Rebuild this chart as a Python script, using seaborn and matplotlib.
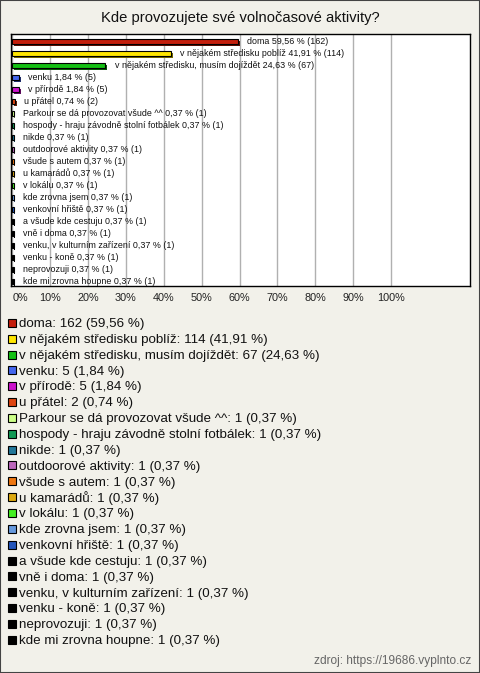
import matplotlib
matplotlib.use("Agg")
import matplotlib.pyplot as plt
import matplotlib.patheffects as pe
from matplotlib import font_manager
from matplotlib.patches import Rectangle
import seaborn as sns
import pandas as pd

categories = [
    "doma", "v nějakém středisku poblíž", "v nějakém středisku, musím dojíždět",
    "venku", "v přírodě", "u přátel", "Parkour se dá provozovat všude ^^",
    "hospody - hraju závodně stolní fotbálek", "nikde", "outdoorové aktivity",
    "všude s autem", "u kamarádů", "v lokálu", "kde zrovna jsem",
    "venkovní hřiště", "a všude kde cestuju", "vně i doma",
    "venku, v kulturním zařízení", "venku - koně", "neprovozuji",
    "kde mi zrovna houpne",
]
counts = [162, 114, 67, 5, 5, 2, 1, 1, 1, 1, 1, 1, 1, 1, 1, 1, 1, 1, 1, 1, 1]
percents = [59.56, 41.91, 24.63, 1.84, 1.84, 0.74, 0.37, 0.37, 0.37, 0.37, 0.37,
            0.37, 0.37, 0.37, 0.37, 0.37, 0.37, 0.37, 0.37, 0.37, 0.37]
colors = ["#c41e0c", "#ffe600", "#14c014", "#4466ee", "#cc11cc", "#dd4411",
          "#ccff88", "#119955", "#227799", "#bb66bb", "#ee7711", "#ddaa11",
          "#44ee22", "#6699dd", "#2255bb", "#000000", "#000000", "#000000",
          "#000000", "#000000", "#000000"]
xticks = [0, 10, 20, 30, 40, 50, 60, 70, 80, 90, 100]
title = "Kde provozujete své volnočasové aktivity?"
source = "zdroj: https://19686.vyplnto.cz"

sns.set_theme(style="white")
names = {f.name for f in font_manager.fontManager.ttflist}
base = "Liberation Sans" if "Liberation Sans" in names else "DejaVu Sans"
narrow = "Liberation Sans Narrow" if "Liberation Sans Narrow" in names else base
plt.rcParams["font.family"] = [base, "DejaVu Sans"]

W, H = 480, 673
bg = "#f2f1ea"
fig = plt.figure(figsize=(W / 100, H / 100), dpi=100, facecolor=bg)

def fx(px):
    return px / W

def fy(py):
    return 1 - py / H

ax = fig.add_axes([fx(11), fy(286), fx(470) - fx(11), fy(34) - fy(286)])
ax.set_facecolor("white")

df = pd.DataFrame({"cat": categories, "pct": percents})
sns.barplot(data=df, x="pct", y="cat", hue="cat", palette=colors, legend=False,
            orient="h", width=0.42, ax=ax, edgecolor="black", linewidth=0.8,
            saturation=1)
for p in ax.patches:
    p.set_path_effects([pe.SimplePatchShadow(offset=(1.3, -1.3), rho=0.45, alpha=1),
                        pe.Normal()])
    p.set_zorder(3)

for i, (c, p, n) in enumerate(zip(categories, percents, counts)):
    lab = f"{c} {p:.2f} % ({n})".replace(".", ",")
    ax.annotate(lab, xy=(p, i), xytext=(6.5, 0), textcoords="offset points",
                ha="left", va="center", fontsize=6.4, family=[narrow, "DejaVu Sans"],
                color="#111111", zorder=4)

d = 0.13
ax.set_xlim(-0.3, 120.8)
ax.set_ylim(len(categories) - 0.5 - d, -0.5 - d)
ax.set_xticks(xticks)
ax.set_xticklabels([f"{t}%" for t in xticks], fontsize=7.8, color="#222222")
ax.get_xticklabels()[0].set_horizontalalignment("left")
ax.tick_params(axis="x", length=0, pad=5)
ax.set_yticks([])
ax.set_xlabel("")
ax.set_ylabel("")
ax.grid(axis="x", color="#b0b0b0", linewidth=1, zorder=0)
ax.set_axisbelow(True)
for s in ax.spines.values():
    s.set_color("black")
    s.set_linewidth(1)

fig.text(0.5, fy(18), title, ha="center", va="center", fontsize=10.6, color="#111111")

# legend
y0, pitch = 323.3, 15.85
for i, (c, p, n, col) in enumerate(zip(categories, percents, counts, colors)):
    yc = y0 + i * pitch
    fig.add_artist(Rectangle((fx(8), fy(yc + 3.5)), fx(8), fy(yc - 4.5) - fy(yc + 3.5),
                             transform=fig.transFigure, facecolor=col,
                             edgecolor="black", linewidth=0.8))
    lab = f"{c}: {n} ({p:.2f} %)".replace(".", ",")
    fig.text(fx(19), fy(yc + 0.8), lab, ha="left", va="center", fontsize=9.6, color="#111111")

fig.text(fx(471), fy(661), source, ha="right", va="center", fontsize=8.6, color="#666666")

fig.add_artist(Rectangle((0, 0), 1, 1, transform=fig.transFigure, facecolor="none",
                         edgecolor="#444444", linewidth=1.5))

fig.savefig("out.png", dpi=100, facecolor=bg)
